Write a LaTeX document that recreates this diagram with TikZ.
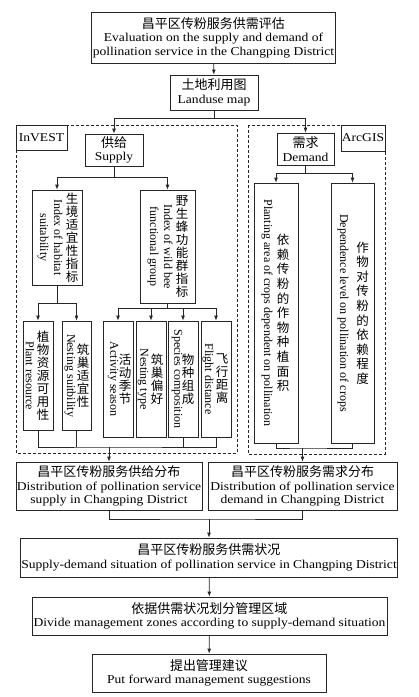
\documentclass[tikz,border=0pt]{standalone}
\usepackage{fontspec}
\setmainfont[FakeStretch=1.13]{Liberation Serif}
\newfontfamily\rotfont{Liberation Serif}
\newfontfamily\cjk{Noto Sans CJK SC}
\usetikzlibrary{arrows.meta,positioning,calc}
\newcommand{\zh}[1]{{\cjk\fontsize{13}{13.5}\selectfont #1}}
\tikzset{
  box/.style={draw=black!85,line width=0.8pt,inner sep=1pt,align=center,
    font=\fontsize{12}{13.5}\selectfont},
  vbox/.style={draw=black!85,line width=0.8pt,inner sep=0pt},
  grp/.style={draw=black!85,line width=0.7pt,dash pattern=on 3pt off 2pt},
  ln/.style={draw=black!85,line width=0.8pt},
  arr/.style={ln,-{Latex[length=5pt,width=4pt]}},
  zhv/.style={font=\cjk\fontsize{12.5}{13}\selectfont,align=center,inner sep=0pt},
  zhl/.style={font=\cjk\fontsize{12.5}{14.6}\selectfont,align=center,inner sep=0pt},
  env/.style={font=\rotfont\fontsize{12}{14}\selectfont,align=center,inner sep=0pt,rotate=-90}
}

\begin{document}
\begin{tikzpicture}[x=1pt,y=-1pt]
  \useasboundingbox (0,0) rectangle (419,697);
  % top of the chart
  \node[box,minimum width=243,minimum height=51] (eval) at (213.5,37.5)
    {\zh{昌平区传粉服务供需评估}\\Evaluation on the supply and demand of\\pollination service in the Changping District};
  \node[box,minimum width=88,minimum height=35] (land) at (214,92.5) {\zh{土地利用图}\\Landuse map};
  \draw[arr] (eval) -- (land);

  % the two model groups
  \draw[grp] (16,125) rectangle (237,453);
  \draw[grp] (248,125) rectangle (385,454);
  \node[box,minimum width=51,minimum height=25] (inv) at (41.5,137.5) {InVEST};
  \node[box,minimum width=44,minimum height=26] (arc) at (363,138) {ArcGIS};
  \node[box,minimum width=58,minimum height=32] (sup) at (114,150) {\zh{供给}\\Supply};
  \node[box,minimum width=57,minimum height=32] (dem) at (305.5,149) {\zh{需求}\\Demand};
  \coordinate (j0) at (214,118);
  \draw[ln] (land) -- (j0);
  \draw[arr] (j0) -| (sup);
  \draw[arr] (j0) -| (dem);

  % supply side
  \node[vbox,minimum width=50,minimum height=95] (hab) at (57,237.5) {};
  \node[zhv] at ([xshift=15pt]hab.center) {生\\境\\适\\宜\\性\\指\\标};
  \node[env] at ([xshift=-7pt]hab.center) {Index of habitat\\suitability};
  \node[vbox,minimum width=55,minimum height=113] (bee) at (167.5,246.5) {};
  \node[zhv] at ([xshift=14.5pt]bee.center) {野\\生\\蜂\\功\\能\\群\\指\\标};
  \node[env] at ([xshift=-7.5pt]bee.center) {Index of wild bee\\functional group};
  \coordinate (j1) at (114,177);
  \draw[ln] (sup) -- (j1);
  \draw[arr] (j1) -| (hab);
  \draw[arr] (j1) -| (bee);

  \node[vbox,minimum width=30,minimum height=109] (pla) at (38,375.5) {};
  \node[zhv] at ([xshift=5pt]pla.center) {植\\物\\资\\源\\可\\用\\性};
  \node[env] at ([xshift=-8pt]pla.center) {Plant resource};
  \node[vbox,minimum width=29,minimum height=109] (nsu) at (76.5,375.5) {};
  \node[zhv] at ([xshift=6.5pt]nsu.center) {筑\\巢\\适\\宜\\性};
  \node[env] at ([xshift=-6.5pt]nsu.center) {Nesting suitbility};
  \coordinate (j2) at (57,303);
  \draw[ln] (hab) -- (j2);
  \draw[arr] (j2) -| (pla);
  \draw[arr] (j2) -| (nsu);

  \node[vbox,minimum width=30,minimum height=116] (act) at (118,379) {};
  \node[zhv] at ([xshift=7pt]act.center) {活\\动\\季\\节};
  \node[env] at ([xshift=-5pt]act.center) {Activity season};
  \node[vbox,minimum width=30,minimum height=116] (nty) at (151,379) {};
  \node[zhv] at ([xshift=6pt]nty.center) {筑\\巢\\偏\\好};
  \node[env] at ([xshift=-8pt]nty.center) {Nesting type};
  \node[vbox,minimum width=30,minimum height=116] (spe) at (183,379) {};
  \node[zhv] at ([xshift=5pt]spe.center) {物\\种\\组\\成};
  \node[env] at ([xshift=-6pt]spe.center) {Species composition};
  \node[vbox,minimum width=30,minimum height=116] (fli) at (216,379) {};
  \node[zhv] at ([xshift=6pt]fli.center) {飞\\行\\距\\离};
  \node[env] at ([xshift=-8pt]fli.center) {Flight distance};
  \coordinate (j3) at (167.5,308);
  \draw[ln] (bee) -- (j3);
  \foreach \n in {act,nty,spe,fli}
    \draw[arr] (j3) -| (\n);

  % demand side
  \node[vbox,minimum width=44,minimum height=260] (pca) at (276,313) {};
  \node[zhl] at ([xshift=7pt]pca.center) {依\\赖\\传\\粉\\的\\作\\物\\种\\植\\面\\积};
  \node[env] at ([xshift=-9pt]pca.center) {Planting area of crops dependent on pollination};
  \node[vbox,minimum width=43,minimum height=260] (dep) at (352.5,313) {};
  \node[zhl] at ([xshift=10pt]dep.center) {作\\物\\对\\传\\粉\\的\\依\\赖\\程\\度};
  \node[env] at ([xshift=-9.5pt]dep.center) {Dependence level on pollination of crops};
  \coordinate (j4) at (305.5,173);
  \draw[ln] (dem) -- (j4);
  \draw[arr] (j4) -| (pca);
  \draw[arr] (j4) -| (dep);

  % distributions and results
  \node[box,minimum width=186,minimum height=48] (sdi) at (109,486)
    {\zh{昌平区传粉服务供给分布}\\Distribution of pollination service\\supply in Changping District};
  \node[box,minimum width=189,minimum height=48] (ddi) at (302.5,486)
    {\zh{昌平区传粉服务需求分布}\\Distribution of pollination service\\demand in Changping District};
  \coordinate (m1) at (109,447);
  \draw[ln] (pla) |- (m1) -| (fli);
  \draw[ln] (nsu) -- (nsu.south |- m1);
  \draw[ln] (spe) -- (spe.south |- m1);
  \draw[arr] (m1) -- (sdi);
  \coordinate (m2) at (302.5,448);
  \draw[ln] (pca) |- (m2) -| (dep);
  \draw[arr] (m2) -- (ddi);

  \node[box,minimum width=376,minimum height=39] (sit) at (209,557.5)
    {\zh{昌平区传粉服务供需状况}\\Supply-demand situation of pollination service in Changping District};
  \node[box,minimum width=355,minimum height=38] (div) at (209.5,616)
    {\zh{依据供需状况划分管理区域}\\Divide management zones according to supply-demand situation};
  \node[box,minimum width=234,minimum height=38] (sug) at (209,673)
    {\zh{提出管理建议}\\Put forward management suggestions};
  \coordinate (m3) at (209,519);
  \draw[ln] (sdi) |- (m3) -| (ddi);
  \draw[arr] (m3) -- (sit);
  \draw[arr] (sit) -- (div);
  \draw[arr] (div) -- (sug);
\end{tikzpicture}
\end{document}
